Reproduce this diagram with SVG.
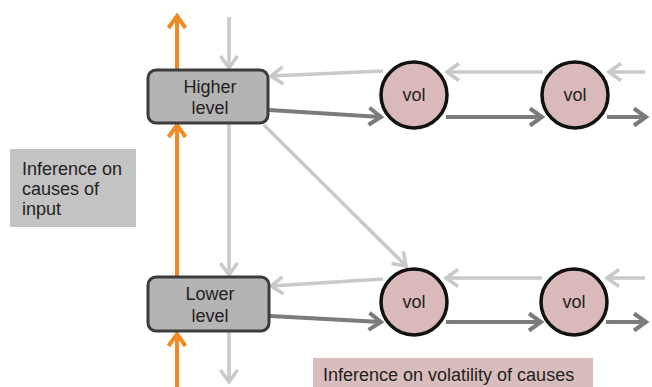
<svg xmlns="http://www.w3.org/2000/svg" width="652" height="387" viewBox="0 0 652 387">
<style>
.t{font-family:"Liberation Sans",Arial,sans-serif;font-size:18px;fill:#222}
.box{fill:#b4b4b4;stroke:#3c3c3c;stroke-width:3}
.vol{fill:#d9b9b9;stroke:#111;stroke-width:3.5}
.or{stroke:#f08a24;stroke-width:4;fill:none;marker-end:url(#mo)}
.lg{stroke:#c9c9c9;stroke-width:3.5;fill:none;marker-end:url(#ml)}
.dg{stroke:#7b7b7b;stroke-width:4;fill:none;marker-end:url(#md)}
</style>
<defs>
<marker id="mo" markerUnits="userSpaceOnUse" markerWidth="26" markerHeight="26" viewBox="-13 -13 26 26" refX="0" refY="0" orient="auto" overflow="visible"><path d="M-12,-8.5 L0,0 L-12,8.5" fill="none" stroke="#f08a24" stroke-width="4"/></marker>
<marker id="ml" markerUnits="userSpaceOnUse" markerWidth="26" markerHeight="26" viewBox="-13 -13 26 26" refX="0" refY="0" orient="auto" overflow="visible"><path d="M-12,-8.5 L0,0 L-12,8.5" fill="none" stroke="#c9c9c9" stroke-width="3.5"/></marker>
<marker id="md" markerUnits="userSpaceOnUse" markerWidth="26" markerHeight="26" viewBox="-13 -13 26 26" refX="0" refY="0" orient="auto" overflow="visible"><path d="M-12,-8.5 L0,0 L-12,8.5" fill="none" stroke="#7b7b7b" stroke-width="4"/></marker>
</defs>
<rect width="652" height="387" fill="#fff"/>
<g id="connectors">
<line class="or" x1="177" y1="387" x2="177" y2="334"/>
<line class="or" x1="177" y1="277" x2="177" y2="125"/>
<line class="or" x1="177" y1="70" x2="177" y2="16"/>
<line class="lg" x1="229" y1="17" x2="229" y2="68"/>
<line class="lg" x1="229" y1="123" x2="229" y2="275"/>
<line class="lg" x1="229" y1="331" x2="229" y2="382"/>
<line class="lg" x1="645" y1="72" x2="609" y2="72"/>
<line class="lg" x1="543" y1="72" x2="447" y2="72"/>
<line class="lg" x1="383" y1="71" x2="271" y2="76"/>
<line class="lg" x1="645" y1="278" x2="607" y2="278"/>
<line class="lg" x1="542" y1="278" x2="446" y2="278"/>
<line class="lg" x1="383" y1="279" x2="271" y2="286"/>
<line class="lg" x1="264" y1="125" x2="406" y2="266"/>
<line class="dg" x1="269" y1="110" x2="381" y2="117"/>
<line class="dg" x1="446" y1="117" x2="542" y2="117"/>
<line class="dg" x1="607" y1="117" x2="646" y2="117"/>
<line class="dg" x1="270" y1="316" x2="381" y2="322"/>
<line class="dg" x1="446" y1="322" x2="541" y2="322"/>
<line class="dg" x1="606" y1="322" x2="646" y2="322"/>
</g>
<g id="higher">
<rect class="box" x="148" y="70" width="120" height="53" rx="8"/>
<text class="t" x="210" y="93" text-anchor="middle">Higher</text>
<text class="t" x="210" y="114" text-anchor="middle">level</text>
</g>
<g id="lower">
<rect class="box" x="148" y="277" width="121" height="54" rx="8"/>
<text class="t" x="210" y="300" text-anchor="middle">Lower</text>
<text class="t" x="210" y="322" text-anchor="middle">level</text>
</g>
<g id="vol1"><circle class="vol" cx="414" cy="95" r="33"/><text class="t" x="414" y="101" text-anchor="middle" font-size="17">vol</text></g>
<g id="vol2"><circle class="vol" cx="575" cy="95" r="33"/><text class="t" x="575" y="101" text-anchor="middle" font-size="17">vol</text></g>
<g id="vol3"><circle class="vol" cx="414" cy="302" r="33"/><text class="t" x="414" y="308" text-anchor="middle" font-size="17">vol</text></g>
<g id="vol4"><circle class="vol" cx="574" cy="302" r="33"/><text class="t" x="574" y="308" text-anchor="middle" font-size="17">vol</text></g>
<g id="label-causes">
<rect x="10" y="149" width="126" height="78" fill="#c3c3c3"/>
<text class="t" x="22" y="175">Inference on</text>
<text class="t" x="22" y="195">causes of</text>
<text class="t" x="22" y="215">input</text>
</g>
<g id="label-volatility">
<rect x="313" y="358" width="280" height="29" fill="#d9bcbc"/>
<text class="t" x="323" y="381">Inference on volatility of causes</text>
</g>
</svg>
